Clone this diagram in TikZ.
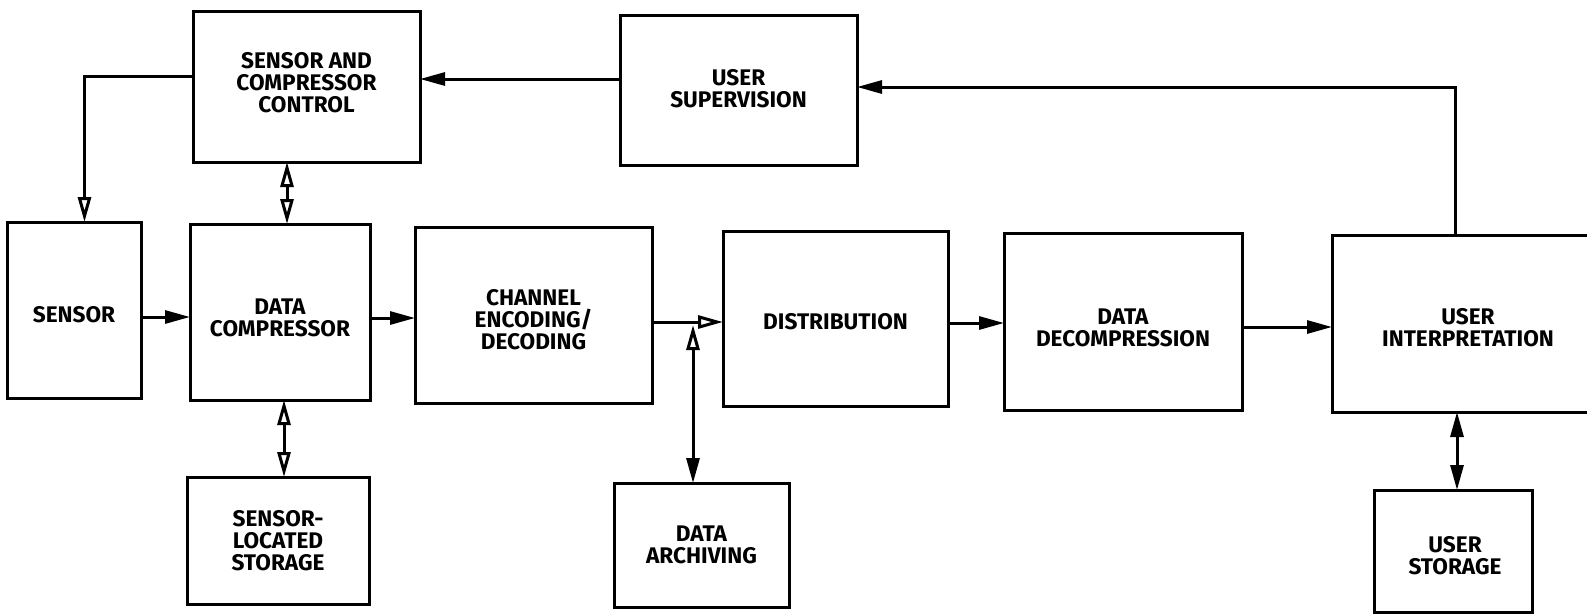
\documentclass[tikz,border=0pt]{standalone}
\usepackage{fontspec}
\setmainfont{Fira Sans}
\usetikzlibrary{arrows.meta}
\begin{document}
\begin{tikzpicture}[x=1pt,y=-1pt,
  box/.style={draw, line width=3pt, inner sep=0pt, outer sep=0pt},
  lbl/.style={font=\fontsize{22.6}{22}\selectfont\bfseries, align=center, inner sep=0pt},
  conn/.style={line width=3pt},
  solidtip/.tip={Triangle[length=25pt,width=13pt]},
  hollowtip/.tip={Triangle[open,length=25pt,width=13pt]}]
\useasboundingbox (0,0) rectangle (1587,614);
\clip (0,0) rectangle (1587,614);
\fill[white] (0,0) rectangle (1587,614);

% blocks
\node[box, minimum width=227pt, minimum height=151pt] (scc)    at (306.5,86.5) {};
\node[box, minimum width=237pt, minimum height=150pt] (us)     at (738.5,90)   {};
\node[box, minimum width=134pt, minimum height=176pt] (sensor) at (74,310)     {};
\node[box, minimum width=180pt, minimum height=176pt] (dc)     at (280,312)    {};
\node[box, minimum width=237pt, minimum height=176pt] (ch)     at (533.5,315)  {};
\node[box, minimum width=225pt, minimum height=175pt] (dist)   at (835.5,318.5){};
\node[box, minimum width=238pt, minimum height=177pt] (dd)     at (1123,321.5) {};
\node[box, minimum width=278pt, minimum height=177pt] (ui)     at (1471,323.5) {};
\node[box, minimum width=182pt, minimum height=127pt] (sls)    at (278,540.5)  {};
\node[box, minimum width=175pt, minimum height=124pt] (da)     at (701.5,545)  {};
\node[box, minimum width=158pt, minimum height=122pt] (ustor)  at (1453,551)   {};

% block captions
\node[lbl] (t-scc)    at ([yshift=4pt]scc.center)    {SENSOR AND\\COMPRESSOR\\CONTROL};
\node[lbl] (t-us)     at ([yshift=1.5pt]us.center)   {USER\\SUPERVISION};
\node[lbl] (t-sensor) at ([yshift=-5pt]sensor.center) {SENSOR};
\node[lbl] (t-dc)     at ([yshift=-6pt]dc.center)    {DATA\\COMPRESSOR};
\node[lbl] (t-ch)     at ([yshift=-5pt]ch.center)    {CHANNEL\\ENCODING/\\DECODING};
\node[lbl] (t-dist)   at ([yshift=-3.5pt]dist.center) {DISTRIBUTION};
\node[lbl] (t-dd)     at ([yshift=-6pt]dd.center)    {DATA\\DECOMPRESSION};
\node[lbl] (t-ui)     at ([xshift=-3pt,yshift=-4.5pt]ui.center) {USER\\INTERPRETATION};
\node[lbl] (t-sls)    at (sls.center)                {SENSOR-\\LOCATED\\STORAGE};
\node[lbl] (t-da)     at (da.center)                 {DATA\\ARCHIVING};
\node[lbl] (t-ustor)  at ([xshift=2pt,yshift=-4.5pt]ustor.center) {USER\\STORAGE};

% routing points
\coordinate (kA) at (84.5,76);
\coordinate (kB) at (0,79);
\coordinate (kC) at (1455,87);
\coordinate (kD) at (287,0);
\coordinate (kE) at (0,317);
\coordinate (kE2) at (0,318);
\coordinate (kF) at (693,322);
\coordinate (kG) at (693,325);
\coordinate (kJ) at (0,323);
\coordinate (kK) at (0,327);
\coordinate (kH) at (284,0);
\coordinate (kI) at (1457,0);

% control paths
\draw[conn,-{hollowtip}] (scc.west |- kA) -| (sensor.north -| kA);
\draw[conn,-{solidtip}] (us.west |- kB) -- (scc.east |- kB);
\draw[conn,-{solidtip}] (ui.north -| kC) |- (us.east |- kC);
\draw[conn,{hollowtip}-{hollowtip}] (scc.south -| kD) -- (dc.north -| kD);

% data path
\draw[conn,-{solidtip}] (sensor.east |- kE) -- (dc.west |- kE);
\draw[conn,-{solidtip}] (dc.east |- kE2) -- (ch.west |- kE2);
\draw[conn,-{hollowtip}] (ch.east |- kF) -- (dist.west |- kF);
\draw[conn,{hollowtip}-{solidtip}] (kG) -- (da.north -| kG);
\draw[conn,-{solidtip}] (dist.east |- kJ) -- (dd.west |- kJ);
\draw[conn,-{solidtip}] (dd.east |- kK) -- (ui.west |- kK);

% storage links
\draw[conn,{hollowtip}-{hollowtip}] (dc.south -| kH) -- (sls.north -| kH);
\draw[conn,{solidtip}-{solidtip}] (ui.south -| kI) -- (ustor.north -| kI);
\end{tikzpicture}
\end{document}
